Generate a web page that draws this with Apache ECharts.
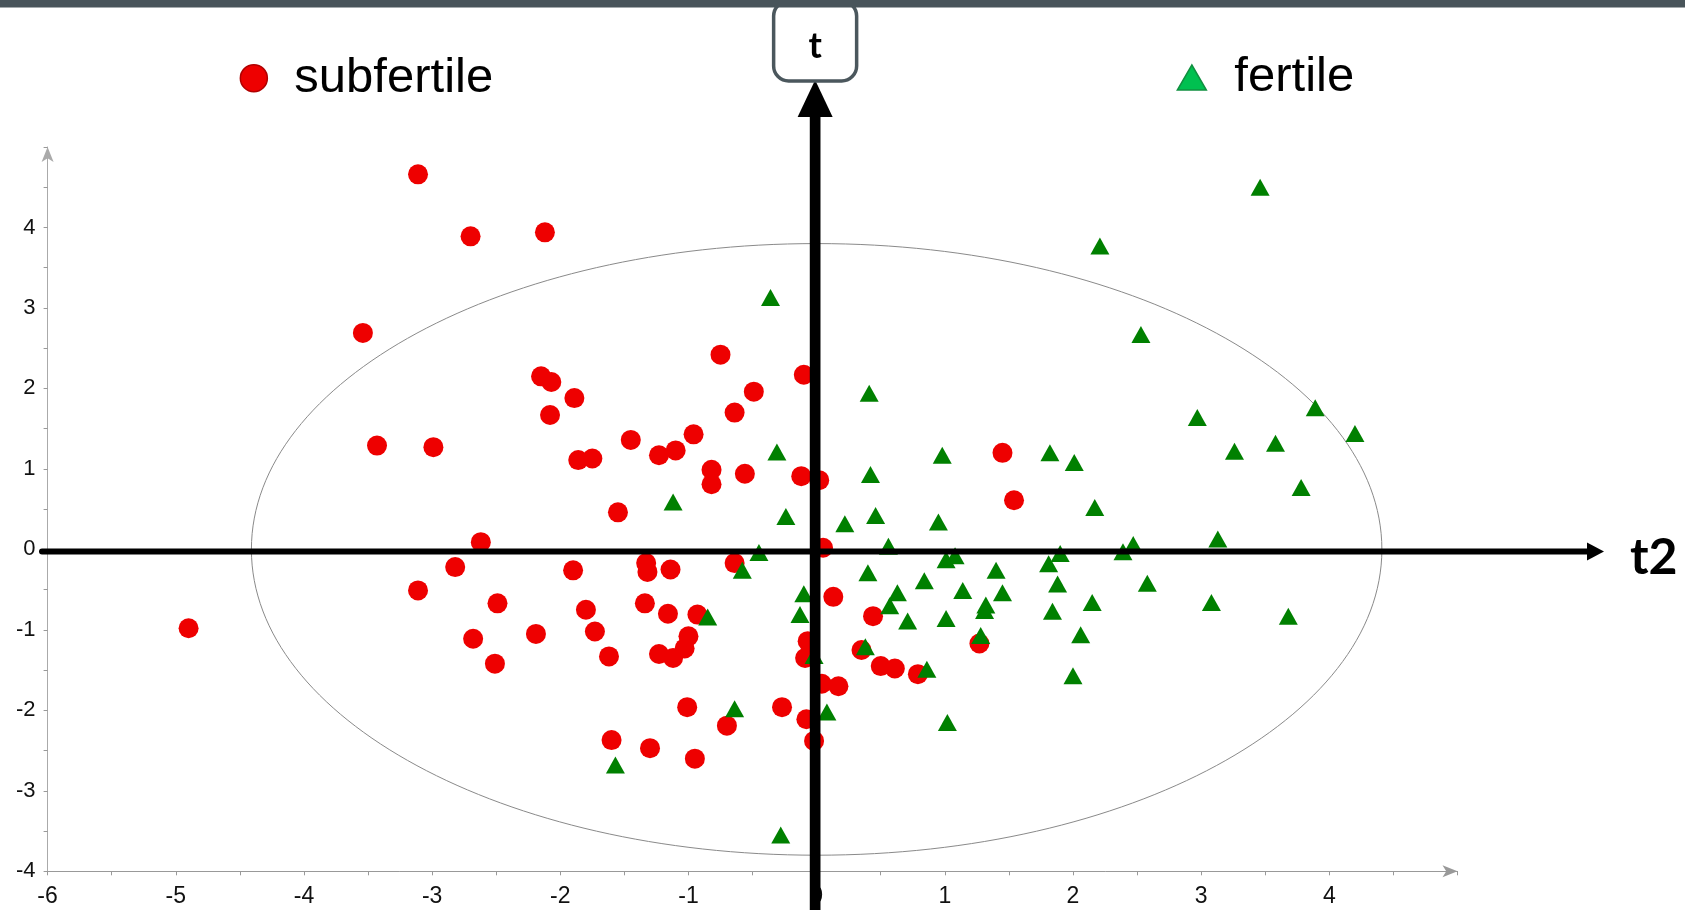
<!DOCTYPE html>
<html>
<head>
<meta charset="utf-8">
<script src="https://cdn.jsdelivr.net/npm/echarts@6/dist/echarts.min.js"></script>
<style>
html,body{margin:0;padding:0;background:#fff;}
#chart{width:1685px;height:910px;}
</style>
</head>
<body>
<div id="chart"></div>
<script>
// ---- data (t2 = horizontal score, t = vertical score) ----
const subfertileT2 = [-3.11,-2.70,-2.12,-3.54,-3.43,-2.99,-4.90,-3.11,-2.82,-2.62,-2.49,-2.68,-2.51,-2.19,
  -2.15,-2.07,-1.89,-2.08,-0.75,-0.10,-0.49,-0.64,-1.45,-0.96,-1.10,-1.23,-1.86,-1.75,-0.82,-0.82,-0.56,-0.12,0.02,-1.55,1.45,1.54,0.05,
  -1.90,-1.33,-1.32,-1.14,-0.64,-1.80,-1.34,-1.16,-0.93,-1.73,-1.62,-1.23,-1.12,-1.03,-1.00,0.13,-0.07,-0.09,0.04,0.17,0.44,0.35,0.50,0.61,0.79,1.27,
  -1.01,-0.27,-0.70,-0.08,-0.02,-1.60,-1.30,-0.95];
const subfertileT = [4.66,3.89,3.94,2.69,1.29,1.27,-0.98,-0.51,-0.22,0.09,-0.67,-1.11,-1.42,-1.05,
  2.15,2.08,1.88,1.67,2.42,2.17,1.96,1.70,1.36,1.43,1.23,1.17,1.11,1.13,0.99,0.81,0.94,0.91,0.86,0.46,1.20,0.61,0.02,
  -0.26,-0.17,-0.28,-0.25,-0.17,-0.75,-0.67,-0.80,-0.81,-1.02,-1.33,-1.30,-1.35,-1.23,-1.08,-0.59,-1.14,-1.35,-1.67,-1.70,-0.83,-1.25,-1.45,-1.48,-1.55,-1.17,
  -1.96,-1.96,-2.19,-2.11,-2.38,-2.37,-2.47,-2.60];

const fertileT2 = [3.46,2.21,2.53,-0.36,0.41,-0.31,0.42,0.46,-0.24,0.22,-1.12,0.56,-0.45,-0.58,0.40,-0.10,0.63,0.57,-0.13,-0.85,0.71,0.84,0.95,0.98,
  1.01,1.08,1.14,1.01,1.32,1.31,1.40,1.45,1.28,1.82,2.01,2.17,1.81,1.90,1.88,1.84,2.15,2.06,2.00,2.39,2.47,2.58,2.97,3.26,3.58,3.13,3.08,3.68,3.78,4.20,3.89,
  0.38,0.86,-0.02,0.08,-0.64,-1.57,-0.28,1.02];
const fertileT = [4.50,3.77,2.67,3.13,1.94,1.21,0.93,0.42,0.41,0.32,0.59,0.04,-0.04,-0.26,-0.29,-0.55,-0.54,-0.70,-0.81,-0.84,-0.89,-0.39,0.34,1.17,
  -0.13,-0.08,-0.51,-0.86,-0.69,-0.76,-0.26,-0.54,-1.07,1.20,1.08,0.52,-0.18,-0.05,-0.43,-0.77,-0.66,-1.06,-1.57,-0.03,0.06,-0.42,1.64,1.22,1.32,0.13,-0.66,-0.83,0.77,1.44,1.76,
  -1.21,-1.49,-1.32,-2.02,-1.98,-2.68,-3.55,-2.15];

const xTicks = [-6,-5,-4,-3,-2,-1,0,1,2,3,4];
const yTicks = [-4,-3,-2,-1,0,1,2,3,4];
const seriesNames = ['subfertile','fertile'];
// Hotelling T2 ellipse (center and semi-axes in score units)
const ellipseCenter = [0, 0];
const ellipseRadii = [4.41, 3.80];

const zip = (a, b) => a.map((v, i) => [v, b[i]]);

const chart = echarts.init(document.getElementById('chart'), null, {renderer: 'canvas'});

const labelFont = 'Liberation Sans, Arial, sans-serif';

const option = {
  animation: false,
  backgroundColor: '#ffffff',
  grid: {left: 47.6, right: 227.5, top: 147, bottom: 38.7},
  legend: [
    {
      data: [{name: seriesNames[0], icon: 'circle', itemStyle: {color: '#ee0000', borderColor: '#b00000', borderWidth: 1.5}}],
      left: 234.6, top: 48.7, itemWidth: 27, itemHeight: 27,
      selectedMode: false,
      textStyle: {fontFamily: labelFont, fontSize: 49, color: '#000', padding: [0, 0, 14.4, 22]}
    },
    {
      data: [{name: seriesNames[1], icon: 'triangle', itemStyle: {color: '#00c050', borderColor: '#109040', borderWidth: 1.5}}],
      left: 1171.6, top: 48, itemWidth: 29, itemHeight: 25,
      selectedMode: false,
      textStyle: {fontFamily: labelFont, fontSize: 49, color: '#000', padding: [0, 0, 8, 23]}
    }
  ],
  xAxis: {
    type: 'value', min: xTicks[0], max: 5, interval: 1,
    splitLine: {show: false},
    axisLine: {onZero: false, lineStyle: {color: '#999', width: 1}, symbol: ['none', 'arrow'], symbolSize: [9, 15], symbolOffset: [0, 0]},
    axisTick: {show: true, length: 4, lineStyle: {color: '#999'}},
    minorTick: {show: true, splitNumber: 2, length: 4, lineStyle: {color: '#999'}},
    axisLabel: {
      fontFamily: labelFont, fontSize: 23, color: '#111', margin: 14, showMaxLabel: false,
      formatter: v => xTicks.indexOf(v) >= 0 ? String(v) : ''
    }
  },
  yAxis: {
    type: 'value', min: yTicks[0], max: 5, interval: 1,
    splitLine: {show: false},
    axisLine: {onZero: false, lineStyle: {color: '#aaa', width: 1}, symbol: ['none', 'arrow'], symbolSize: [9, 15]},
    axisTick: {show: true, length: 4, lineStyle: {color: '#999'}},
    minorTick: {show: true, splitNumber: 2, length: 4, lineStyle: {color: '#999'}},
    axisLabel: {
      fontFamily: labelFont, fontSize: 22, color: '#111', margin: 12, showMaxLabel: false,
      formatter: v => yTicks.indexOf(v) >= 0 ? String(v) : ''
    }
  },
  series: [
    {
      type: 'custom', name: 'ellipse', silent: true, z: 1,
      data: [[ellipseCenter[0], ellipseCenter[1], ellipseRadii[0], ellipseRadii[1]]],
      renderItem: function (params, api) {
        const c = api.coord([api.value(0), api.value(1)]);
        const s = api.size([api.value(2), api.value(3)]);
        return {
          type: 'ellipse',
          shape: {cx: c[0], cy: c[1], rx: s[0], ry: s[1]},
          style: {fill: null, stroke: '#8a8a8a', lineWidth: 1}
        };
      },
      tooltip: {show: false}
    },
    {
      type: 'scatter', name: seriesNames[0], z: 2,
      symbol: 'circle', symbolSize: 20,
      itemStyle: {color: '#ee0000', opacity: 1},
      data: zip(subfertileT2, subfertileT)
    },
    {
      type: 'scatter', name: seriesNames[1], z: 3,
      symbol: 'triangle', symbolSize: [19, 17],
      itemStyle: {color: '#008000', opacity: 1},
      data: zip(fertileT2, fertileT)
    }
  ]
};

chart.setOption(option);

// Score-plot overlay: bold t / t2 axes through the origin, drawn above the points
const o = chart.convertToPixel({gridIndex: 0}, [0, 0]);
const ox = o[0] - 1.5, oy = o[1] + 2;
chart.setOption({
  graphic: [
    {type: 'rect', z: 100, silent: true, shape: {x: 0, y: 0, width: 1685, height: 7.5}, style: {fill: '#48545a'}},
    {type: 'rect', z: 99, silent: true, shape: {x: ox - 41.5, y: 1, width: 83, height: 80, r: 15},
      style: {fill: '#fff', stroke: '#4b575d', lineWidth: 3.5}},
    {type: 'text', z: 101, silent: true, x: ox, y: 46,
      style: {text: 't', fontFamily: 'Lato, sans-serif', fontWeight: 'bold', fontSize: 36, fill: '#000', align: 'center', verticalAlign: 'middle'}},
    {type: 'line', z: 98, silent: true, shape: {x1: ox, y1: 915, x2: ox, y2: 112},
      style: {stroke: '#000', lineWidth: 10.7}},
    {type: 'polygon', z: 98, silent: true, shape: {points: [[ox - 17.5, 117], [ox + 17.5, 117], [ox, 80]]}, style: {fill: '#000'}},
    {type: 'line', z: 97, silent: true, shape: {x1: 42, y1: oy, x2: 1590, y2: oy},
      style: {stroke: '#000', lineWidth: 6, lineCap: 'round'}},
    {type: 'polygon', z: 97, silent: true, shape: {points: [[1587, oy - 9], [1587, oy + 9], [1604, oy]]}, style: {fill: '#000'}},
    {type: 'text', z: 101, silent: true, x: 1630, y: oy + 6,
      style: {text: 't2', fontFamily: 'Lato, sans-serif', fontWeight: 'bold', fontSize: 50, fill: '#000', align: 'left', verticalAlign: 'middle'}}
  ]
});
</script>
</body>
</html>
